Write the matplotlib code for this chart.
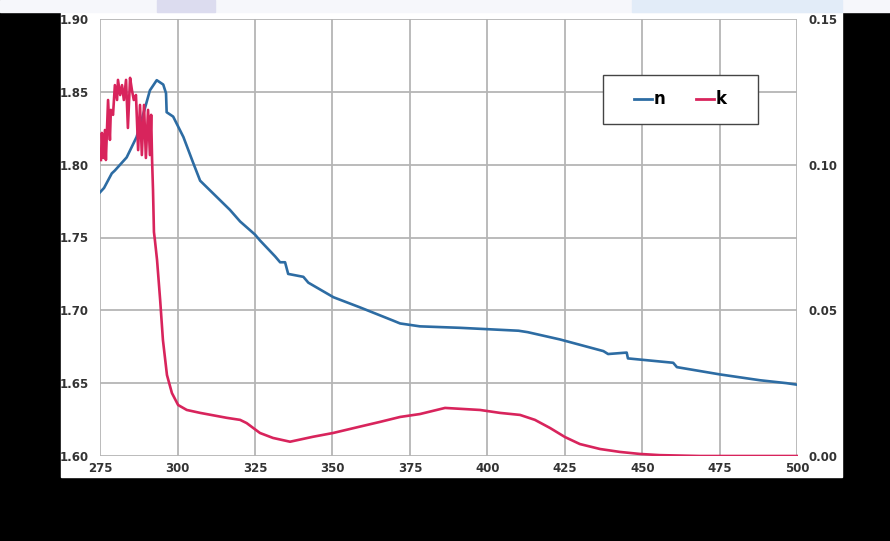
import matplotlib.pyplot as plt
from matplotlib.patches import Rectangle
from matplotlib.lines import Line2D

# refractive index n (left axis) vs wavelength (nm)
n_wl = [275.0, 276.3, 278.8, 279.8, 283.6, 286.8, 289.0, 291.1, 293.3, 295.4,
        296.3, 296.5, 298.6, 301.9, 305.1, 307.3, 312.1, 316.9, 320.2, 325.0,
        326.6, 331.5, 333.1, 334.7, 335.7, 340.6, 342.2, 350.3, 358.9, 369.5,
        371.8, 378.2, 391.1, 410.0, 413.0, 423.4, 437.4, 438.9, 444.9, 445.3,
        459.9, 461.1, 475.0, 487.9, 496.5, 499.7]
n_val = [1.781, 1.784, 1.794, 1.796, 1.805, 1.819, 1.835, 1.851, 1.858, 1.855,
         1.849, 1.836, 1.833, 1.819, 1.801, 1.789, 1.779, 1.769, 1.761, 1.752,
         1.748, 1.737, 1.733, 1.733, 1.725, 1.723, 1.719, 1.709, 1.702, 1.693,
         1.691, 1.689, 1.688, 1.686, 1.685, 1.680, 1.672, 1.670, 1.671, 1.667,
         1.664, 1.661, 1.656, 1.652, 1.650, 1.649]

# extinction coefficient k (right axis)
k_wl = [275.3, 275.6, 276.0, 276.6, 276.9, 277.6, 278.2, 278.5, 279.2, 279.8,
        280.5, 280.8, 281.5, 282.1, 282.7, 283.4, 284.0, 284.7, 285.3, 285.9,
        286.6, 287.3, 287.9, 288.5, 289.2, 289.8, 290.5, 291.1, 291.5, 291.8,
        292.1, 292.4, 292.7, 293.4, 294.4, 295.3, 296.6, 298.2, 300.2, 303.0,
        307.3, 315.9, 320.2, 322.3, 326.6, 330.8, 336.3, 343.7, 350.2, 358.9,
        365.3, 371.8, 378.2, 386.3, 397.6, 404.0, 410.5, 415.3, 420.2, 425.0,
        429.8, 436.3, 442.7, 449.2, 455.6, 468.5, 500.0]
k_val = [0.1016, 0.1109, 0.1023, 0.1119, 0.1016, 0.1222, 0.1085, 0.1188, 0.1171, 0.1273,
         0.1222, 0.1291, 0.1239, 0.1273, 0.1222, 0.1291, 0.1126, 0.1298, 0.1256, 0.1222,
         0.1239, 0.1050, 0.1205, 0.1033, 0.1205, 0.1023, 0.1188, 0.1033, 0.1171, 0.1016,
         0.0913, 0.0769, 0.0742, 0.0673, 0.0536, 0.0398, 0.0278, 0.0216, 0.0175, 0.0158,
         0.0148, 0.0131, 0.0124, 0.0113, 0.0079, 0.0062, 0.0049, 0.0066, 0.0079, 0.0101,
         0.0117, 0.0134, 0.0144, 0.0165, 0.0158, 0.0148, 0.0141, 0.0124, 0.0096, 0.0065,
         0.0041, 0.0024, 0.0014, 0.0007, 0.0003, 0.0, 0.0]

x_ticks = [275, 300, 325, 350, 375, 400, 425, 450, 475, 500]
n_ticks = [1.60, 1.65, 1.70, 1.75, 1.80, 1.85, 1.90]
k_ticks = [0.00, 0.05, 0.10, 0.15]

BLUE = "#2d6ca3"
RED = "#d8245c"
W, H = 890, 541

fig = plt.figure(figsize=(W / 100, H / 100), dpi=100, facecolor="black")

# white chart card and the pale strip along the top edge
fig.patches.append(Rectangle((61 / W, 1 - 477 / H), (842 - 61) / W, (477 - 12) / H,
                             transform=fig.transFigure, color="white", zorder=-10))
fig.patches.append(Rectangle((0, 1 - 12 / H), 1, 12 / H, transform=fig.transFigure,
                             color="#f6f7fb", zorder=-10))
fig.patches.append(Rectangle((157 / W, 1 - 12 / H), 58 / W, 12 / H, transform=fig.transFigure,
                             color="#dcdcef", zorder=-9))
fig.patches.append(Rectangle((632 / W, 1 - 12 / H), 210 / W, 12 / H, transform=fig.transFigure,
                             color="#e2ecf8", zorder=-9))

ax = fig.add_axes([100 / W, 1 - 456 / H, 697.5 / W, 437 / H])
ax.set_facecolor("none")
ax2 = ax.twinx()

ax.plot(n_wl, n_val, color=BLUE, lw=1.9, zorder=3)
ax2.plot(k_wl, k_val, color=RED, lw=1.9, zorder=3)

ax.set_xlim(275, 500)
ax.set_ylim(1.60, 1.90)
ax2.set_ylim(0, 0.15)
ax.set_xticks(x_ticks)
ax.set_yticks(n_ticks)
ax2.set_yticks(k_ticks)
ax.set_yticklabels([f"{v:.2f}" for v in n_ticks])
ax2.set_yticklabels([f"{v:.2f}" for v in k_ticks])

ax.grid(True, color="#b5b5b5", lw=1.3)
ax.set_axisbelow(True)
for a in (ax, ax2):
    for s in a.spines.values():
        s.set_visible(False)

ax.tick_params(axis="y", length=0, pad=8)
ax.tick_params(axis="x", length=0, pad=4)
ax2.tick_params(axis="y", length=0, pad=8)
for lab in ax.get_xticklabels() + ax.get_yticklabels() + ax2.get_yticklabels():
    lab.set_fontsize(8.5)
    lab.set_fontweight("bold")
    lab.set_color("#333333")

# legend box drawn separately so it can be wider than the entries
ax2.add_patch(Rectangle((0.721, 0.760), 0.222, 0.112, transform=ax2.transAxes,
                        facecolor="white", edgecolor="#444444", lw=1.0, zorder=4))
handles = [Line2D([], [], color=BLUE, lw=2), Line2D([], [], color=RED, lw=2)]
leg = ax2.legend(handles, ["n", "k"], ncol=2, loc="center",
                 bbox_to_anchor=(0.832, 0.816), prop=dict(size=12, weight="bold"),
                 handlelength=1.1, handletextpad=0.1, columnspacing=1.8,
                 frameon=False)
leg.set_zorder(5)

fig.savefig("out.png", dpi=100, facecolor=fig.get_facecolor())
